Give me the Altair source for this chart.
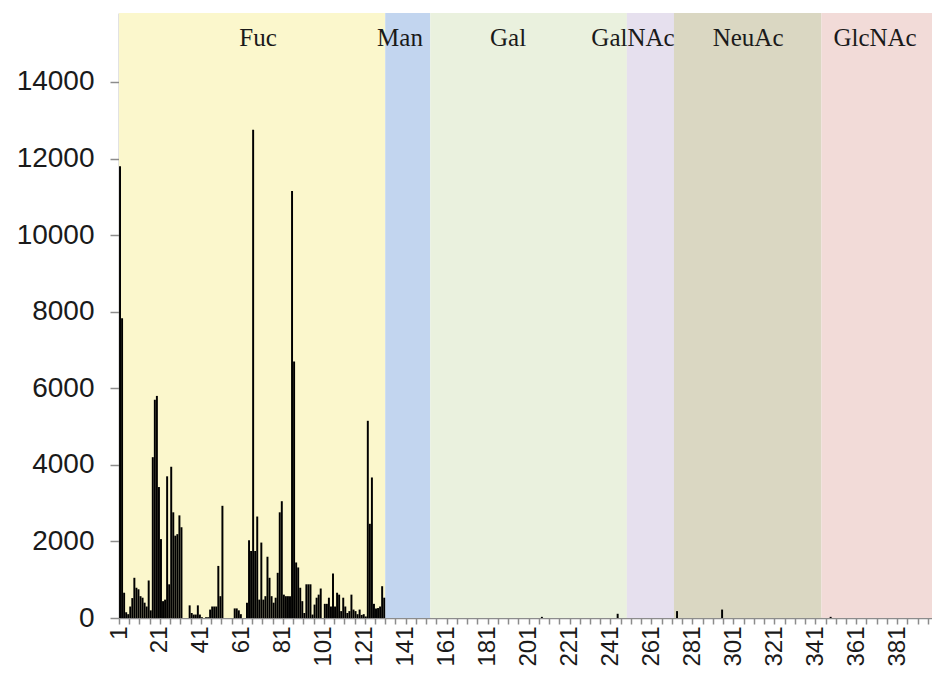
import altair as alt
import pandas as pd

# ---------------- data ----------------
N_CATS = 397  # categories visible on the axis

# Fuc compounds (categories 1..130)
fuc_values = [
    11800, 7830, 660, 150, 100, 300, 520, 1050, 790, 750,
    570, 530, 400, 300, 980, 200, 4200, 5700, 5800, 3420,
    2060, 440, 480, 3700, 880, 3950, 2760, 2150, 2190, 2680,
    2370, 0, 0, 0, 330, 130, 90, 90, 330, 90,
    20, 0, 20, 20, 220, 300, 300, 300, 1360, 570,
    2930, 0, 0, 0, 0, 0, 250, 250, 200, 100,
    0, 0, 400, 2030, 1750, 12750, 1750, 2650, 480, 1970,
    480, 570, 1600, 1050, 570, 400, 530, 1180, 2760, 3050,
    610, 570, 570, 570, 11150, 6700, 1450, 1320, 790, 440,
    130, 880, 880, 880, 90, 350, 530, 610, 770, 0,
    370, 370, 530, 300, 1160, 300, 660, 610, 180, 530,
    300, 130, 180, 610, 220, 180, 100, 220, 80, 100,
    40, 5150, 2460, 3670, 370, 250, 260, 300, 830, 530,
]

# a few small bars in the other classes
other_idx = [207, 244, 273, 295, 348]
other_val = [30, 110, 180, 220, 30]

region_names = ["Fuc", "Man", "Gal", "GalNAc", "NeuAc", "GlcNAc"]
region_start = [1, 131, 153, 249, 272, 344]
region_end = [130, 152, 248, 271, 343, 397]
region_colors = ["#FBF7CC", "#C2D5EF", "#EAF1DE", "#E6E0EE", "#DAD7C2", "#F2DBD8"]
label_pos = [68.4, 137.7, 190.5, 251.5, 307.7, 369.7]

y_ticks = [0, 2000, 4000, 6000, 8000, 10000, 12000, 14000]
Y_TOP = 15800

# ---------------- tables ----------------
values = [0] * N_CATS
for i, v in enumerate(fuc_values):
    values[i] = v
for i, v in zip(other_idx, other_val):
    values[i - 1] = v
bars = pd.DataFrame({"idx": list(range(1, N_CATS + 1)), "value": values})

bands = pd.DataFrame({
    "name": region_names,
    "x0": [s - 0.5 for s in region_start],
    "x1": [e + 0.5 for e in region_end],
    "ytop": [Y_TOP] * len(region_names),
    "ybot": [0] * len(region_names),
    "color": region_colors,
})
labels = pd.DataFrame({"name": region_names, "pos": label_pos, "yv": [15150] * 6})

tick_vals = [0.5 + 5 * k for k in range(0, N_CATS // 5 + 1)]

xscale = alt.Scale(domain=[0.5, N_CATS + 0.5], nice=False, zero=False)
yscale = alt.Scale(domain=[0, Y_TOP], nice=False, zero=True)

GRAY = "#8c8c8c"
x_axis = alt.Axis(
    values=tick_vals,
    labelExpr="(datum.value - 0.5) % 20 == 0 ? format(datum.value + 0.5, 'd') : ''",
    labelAngle=270, labelFontSize=24, labelFont="Liberation Sans", labelColor="#1a1a1a",
    tickColor=GRAY, tickSize=6, domainColor=GRAY, domainWidth=1.5, tickWidth=1.5,
    labelPadding=2, grid=False, title=None, labelOverlap=False, labelFlush=False,
)
y_axis = alt.Axis(
    values=y_ticks, format="d", labelFontSize=28, labelFont="Liberation Sans",
    labelColor="#1a1a1a", tickColor=GRAY, tickSize=9, tickWidth=1.5,
    domainColor=GRAY, domainWidth=1.5, labelPadding=16, grid=False, title=None,
)

band_layer = alt.Chart(bands).mark_rect().encode(
    x=alt.X("x0:Q", scale=xscale, axis=x_axis),
    x2="x1:Q",
    y=alt.Y("ytop:Q", scale=yscale, axis=y_axis),
    y2="ybot:Q",
    color=alt.Color("color:N", scale=None, legend=None),
)

bar_layer = alt.Chart(bars).transform_calculate(
    b0="datum.idx - 0.48", b1="datum.idx + 0.48"
).mark_rect(color="#000000").encode(
    x=alt.X("b0:Q", scale=xscale, axis=x_axis),
    x2="b1:Q",
    y=alt.Y("value:Q", scale=yscale, axis=y_axis),
    y2=alt.datum(0),
)

text_layer = alt.Chart(labels).mark_text(
    font="Liberation Serif", fontSize=25, color="#1a1a1a", align="center", baseline="middle"
).encode(
    x=alt.X("pos:Q", scale=xscale, axis=x_axis),
    y=alt.Y("yv:Q", scale=yscale, axis=y_axis),
    text="name:N",
)

chart = alt.layer(band_layer, bar_layer, text_layer).properties(
    width=813, height=605,
    autosize=alt.AutoSizeParams(type="none"),
    padding={"left": 111, "top": 5, "right": 0, "bottom": 49},
).configure_view(strokeWidth=0)

chart.save("out.html", embed_options={"renderer": "svg", "actions": False})
